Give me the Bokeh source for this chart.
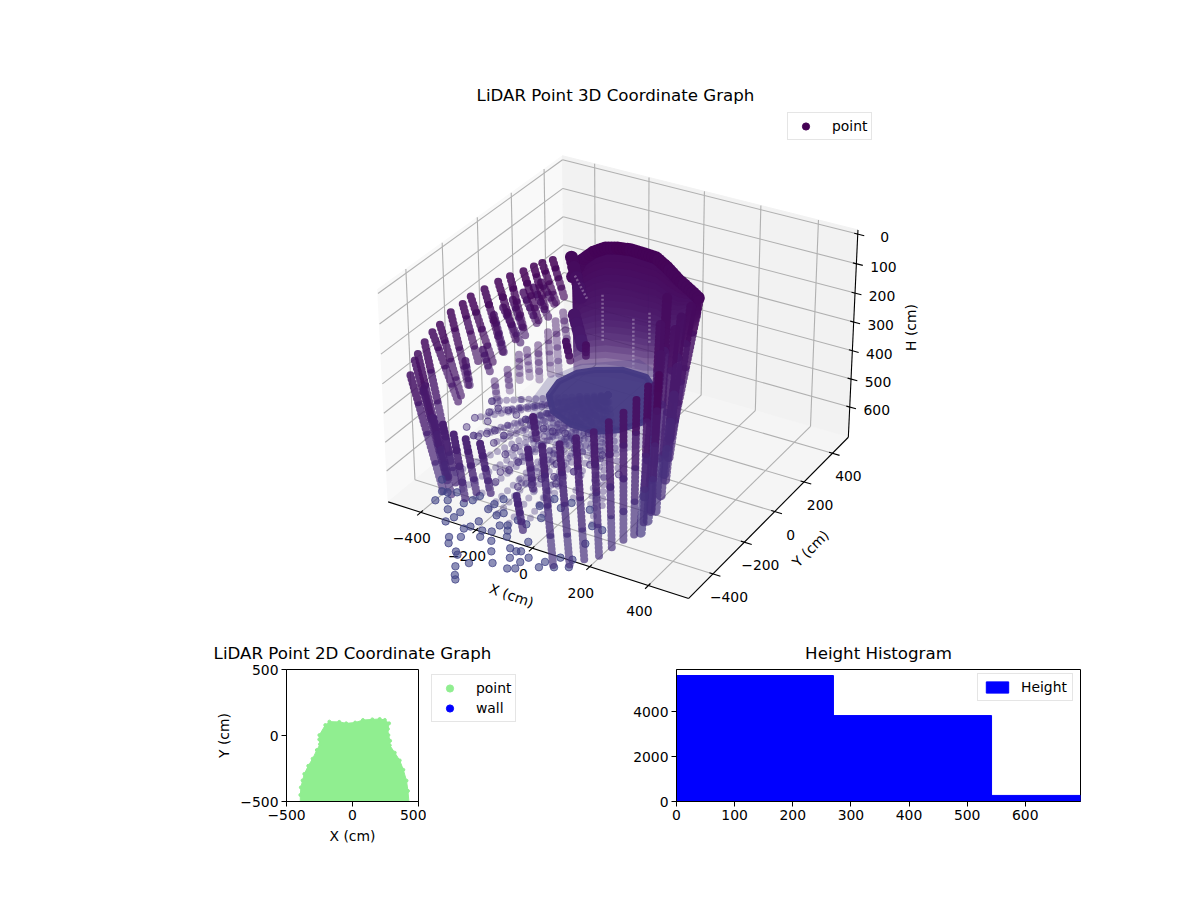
import numpy as np
from bokeh.core.properties import value
from bokeh.embed import file_html
from bokeh.layouts import column, row
from bokeh.models import FixedTicker, Legend, LegendItem, Range1d
from bokeh.palettes import Viridis256
from bokeh.plotting import figure
from bokeh.resources import INLINE

FONT = "DejaVu Sans"

# axis limits and ticks of the 3D view
x_lim = [-520, 535]
y_lim = [-550, 515]
h_lim = [709, -14]
xy_ticks = [-400, -200, 0, 200, 400]
h_ticks = [0, 100, 200, 300, 400, 500, 600]

# left wall, upper row of scan columns (start and end of each column)
lw_x0 = [-404, -411, -394, -394, -400, -398, -394, -387, -374, -368, -347, -326, -304, -275, -259, -243, -221]
lw_y0 = [-568, -532, -515, -539, -492, -452, -416, -366, -319, -283, -238, -193, -160, -129, -94, -71, -45]
lw_h0 = [230, 200, 300, 170, 155, 140, 130, 110, 100, 90, 80, 70, 60, 50, 45, 40, 35]
lw_x1 = [-336, -337, -299, -328, -337, -332, -325, -321, -333, -290, -282, -254, -253, -219, -221, -194, -177]
lw_y1 = [-514, -488, -525, -503, -469, -420, -415, -380, -302, -289, -246, -209, -169, -136, -92, -69, -52]
lw_h1 = [640, 620, 640, 600, 560, 380, 360, 340, 300, 290, 270, 250, 220, 200, 180, 170, 150]

# left wall, second row
l2_x0 = [-358, -339, -319, -306, -276, -262, -309, -291]
l2_y0 = [-172, -148, -123, -82, -71, -49, -413, -343]
l2_h0 = [200, 180, 160, 150, 130, 120, 230, 220]
l2_x1 = [-330, -296, -290, -266, -238, -224, -299, -273]
l2_y1 = [-162, -116, -99, -71, -49, -27, -407, -332]
l2_h1 = [330, 310, 290, 250, 230, 200, 320, 300]

# left wall, third (faint) row
l3_x0 = [-266, -250, -249, -234, -210, -207, -204, -193]
l3_y0 = [-321, -272, -206, -184, -157, -103, -62, -35]
l3_h0 = [330, 310, 290, 280, 270, 250, 230, 210]
l3_x1 = [-256, -248, -251, -224, -208, -198, -200, -181]
l3_y1 = [-322, -264, -201, -185, -156, -103, -52, -28]
l3_h1 = [410, 390, 390, 380, 390, 400, 420, 330]

# dark short columns low on the left and near the centre
ld_x0 = [-400, -367, -327, -290, -247, -122, -118, -164, -81, -18]
ld_y0 = [-460, -460, -463, -454, -441, -368, -445, -268, -206, -194]
ld_h0 = [430, 440, 460, 470, 480, 500, 620, 450, 200, 200]
ld_x1 = [-362, -325, -281, -256, -219, -107, -49, -147, -64, -21]
ld_y1 = [-444, -461, -481, -454, -432, -366, -522, -277, -209, -190]
ld_h1 = [640, 640, 660, 650, 650, 640, 680, 520, 260, 250]

# front wall columns
fw_x0 = [4, 64, 121, 181, 232, 281, 324, 362, 397]
fw_y0 = [-490, -490, -490, -490, -490, -490, -490, -490, -490]
fw_h0 = [391, 365, 328, 291, 243, 198, 144, 90, 43]
fw_x1 = [132, 174, 197, 226, 236, 246, 251, 242, 234]
fw_y1 = [-647, -622, -576, -539, -481, -429, -373, -299, -238]
fw_h1 = [680, 680, 680, 680, 680, 680, 680, 680, 680]

# right wall columns
rw_x0 = [265, 256, 245, 248, 194, 205, 260, 249, 250]
rw_y0 = [-9, -39, -79, -123, -76, -135, -129, -248, -214]
rw_h0 = [60, 70, 90, 110, 40, 100, 230, 240, 150]
rw_x1 = [304, 315, 324, 318, 308, 301, 263, 262, 282]
rw_y1 = [-250, -281, -315, -332, -344, -362, -213, -352, -346]
rw_h1 = [400, 450, 500, 550, 600, 590, 560, 680, 640]

# back wall mass: top and end of the fading part
bm_x = [-199, -189, -156, -123, -85, -45, -1, 39, 84, 138, 194, 244]
bm_y = [34, 72, 86, 105, 114, 125, 130, 134, 122, 95, 69, 45]
bm_h0 = [120, 80, 50, 35, 30, 30, 35, 40, 55, 70, 80, 90]
bm_h2 = [470, 480, 480, 480, 480, 480, 480, 470, 460, 365, 232, 150]

# dark blocks on the left edge of the mass
bs_x0 = [-207, -146]
bs_y0 = [42, -47]
bs_h0 = [60, 200]
bs_x1 = [-185, -105]
bs_y1 = [62, -62]
bs_h1 = [200, 300]

# pale gaps inside the mass
gap_x = [-131, -21, 36, -230]
gap_y = [100, 100, 100, 100]
gap_h0 = [194, 247, 211, 154]
gap_x1 = [-131, -21, 36, -187]
gap_h1 = [355, 416, 319, 222]

# dense floor patch under the sensor, and the thinner fringe round it
disc_x = [-219, -236, -215, -174, -99, -14, 53, 110, 115, 74, 18, -67, -156]
disc_y = [-84, 5, 83, 128, 172, 170, 110, 12, -84, -160, -206, -204, -164]
disc_h = 480
halo_x = [-246, -280, -235, -88, 70, 209, 205, 109, -32, -150]
halo_y = [-165, 12, 137, 257, 186, -28, -195, -317, -334, -272]

# faint rays across the floor
ray_x0 = -60
ray_y0 = 10
ray_h0 = 480
ray_x1 = [-382, -328, -299, -248, -251, -185, -127, -144, -54, -25, 46, 68, 171, 219, -362, -317, -241, -392]
ray_y1 = [-259, -352, -321, -305, -358, -398, -417, -492, -538, -508, -380, -321, -326, -508, -207, -167, -188, -145]
ray_h1 = 520
ray2_x1 = [-135, -95, -37, 28, 8, -202, -267, -346, 130, 182, 63, -11]
ray2_y1 = [-579, -596, -627, -542, -594, -560, -546, -507, -429, -504, -423, -486]
ray2_h1 = 600

# single floor points, far reaches first
fl_x = [-15, -29, -52, -27, -80, -93, -136, -153, -123, -140, -129, -208, -199, -198, -239, -299, -267,
        -309, -346, -292, -267, -216, -202, -196, -135, -134, -125, -95, -83, -37, -57, -123, -87, -74,
        -60, -34, -4, 32, -6, -22, 35, 59, 71, 61, 84, 104, 63, 108, 99, 160, 161, 198, 235, 188, 224,
        -11, 7, 63, 50, 28, 8, -26, 213, 130, 182, 219]
fl_y = [-949, -930, -891, -857, -836, -824, -797, -768, -750, -707, -688, -701, -669, -636, -641, -617, -598,
        -564, -507, -560, -546, -588, -560, -529, -579, -546, -508, -596, -575, -627, -639, -651, -689, -721,
        -679, -723, -771, -822, -681, -651, -729, -734, -727, -773, -825, -813, -673, -745, -777, -773, -740,
        -751, -729, -698, -690, -486, -430, -423, -464, -542, -594, -587, -597, -429, -504, -508]
fl_x2 = [-382, -374, -328, -313, -299, -287, -248, -251, -185, -180, -127, -144, -127, -54, -25, -126,
         -336, -362, -391, -350, -317, -280, -241, -164, -131, -92, -44, -30, 72, 171, 68, 46, -22, 10, -17, 35]
fl_y2 = [-259, -319, -352, -349, -321, -294, -305, -358, -398, -350, -417, -492, -470, -538, -508, -548,
         -257, -207, -145, -173, -167, -179, -188, -208, -208, -199, -223, -162, -253, -326, -321, -380, -368, -435, -464, -466]
fl_h_far = 600
fl_h_near = 520

# 2D scatter outline
outline_x = [-396, -395, -391, -378, -365, -335, -302, -270, -246, -252, -251, -206, -175, -100, -48, 20, 79,
             150, 206, 245, 277, 268, 272, 285, 282, 320, 358, 385, 409, 420, 429]
outline_y = [-520, -450, -393, -340, -291, -230, -176, -110, -66, -30, 3, 79, 105, 103, 92, 98, 117,
             122, 125, 118, 92, 50, 3, -40, -74, -130, -189, -260, -342, -420, -520]
ticks_2d = [-500, 0, 500]

# histogram
hist_edges = [0, 270, 542, 695]
hist_counts = [5600, 3820, 270]
hist_x_ticks = [0, 100, 200, 300, 400, 500, 600]
hist_y_ticks = [0, 2000, 4000]


box = np.array([1.19, 1.19, 0.85])
elev, azim = np.radians(30), np.radians(-60)
n_vec = np.array([np.cos(elev) * np.cos(azim), np.cos(elev) * np.sin(azim), np.sin(elev)])
u_vec = np.cross([0, 0, 1], n_vec)
u_vec = u_vec / np.linalg.norm(u_vec)
v_vec = np.cross(n_vec, u_vec)


def project(x, y, h):
    # same perspective view as a 3D axes with elev 30, azim -60
    x, y, h = np.asarray(x, float), np.asarray(y, float), np.asarray(h, float)
    px = (x - x_lim[0]) / (x_lim[1] - x_lim[0]) * box[0] - box[0] / 2
    py = (y - y_lim[0]) / (y_lim[1] - y_lim[0]) * box[1] - box[1] / 2
    pz = (h - h_lim[0]) / (h_lim[1] - h_lim[0]) * box[2] - box[2] / 2
    w = 10 - (n_vec[0] * px + n_vec[1] * py + n_vec[2] * pz)
    sx = (u_vec[0] * px + u_vec[1] * py + u_vec[2] * pz) / w
    sy = (v_vec[0] * px + v_vec[1] * py + v_vec[2] * pz) / w
    return 622 + 2890 * sx, 365.7 - 2851 * sy


def h_color(h):
    return Viridis256[int(max(h, 0) / 695 * 46)]


p1 = figure(width=1184, height=662, x_range=Range1d(0, 1184), y_range=Range1d(662, 0),
            toolbar_location=None, output_backend="svg", min_border=0)
p1.axis.visible = False
p1.grid.visible = False
p1.outline_line_color = None


def pane(xs, ys, hs, color):
    sx, sy = project(xs, ys, hs)
    p1.patch(sx.tolist(), sy.tolist(), fill_color=color, line_color=color)


pane([x_lim[0]] * 4, [y_lim[0], y_lim[1], y_lim[1], y_lim[0]], [h_lim[1], h_lim[1], h_lim[0], h_lim[0]], "#f9f9f9")
pane([x_lim[0], x_lim[1], x_lim[1], x_lim[0]], [y_lim[1]] * 4, [h_lim[1], h_lim[1], h_lim[0], h_lim[0]], "#f2f2f2")
pane([x_lim[0], x_lim[1], x_lim[1], x_lim[0]], [y_lim[0], y_lim[0], y_lim[1], y_lim[1]], [h_lim[0]] * 4, "#f5f5f5")


def seg(x0, y0, h0, x1, y1, h1):
    a, b = project([x0, x1], [y0, y1], [h0, h1])
    return a.tolist(), b.tolist()


grid_xs, grid_ys = [], []
for t in xy_ticks:
    # x ticks: floor then back wall
    for s in (seg(t, y_lim[0], h_lim[0], t, y_lim[1], h_lim[0]), seg(t, y_lim[1], h_lim[0], t, y_lim[1], h_lim[1])):
        grid_xs.append(s[0])
        grid_ys.append(s[1])
    # y ticks: floor then left wall
    for s in (seg(x_lim[0], t, h_lim[0], x_lim[1], t, h_lim[0]), seg(x_lim[0], t, h_lim[0], x_lim[0], t, h_lim[1])):
        grid_xs.append(s[0])
        grid_ys.append(s[1])
for t in h_ticks:
    for s in (seg(x_lim[0], y_lim[0], t, x_lim[0], y_lim[1], t), seg(x_lim[0], y_lim[1], t, x_lim[1], y_lim[1], t)):
        grid_xs.append(s[0])
        grid_ys.append(s[1])
p1.multi_line(grid_xs, grid_ys, line_color="#b0b0b0", line_width=1.1)

axis_xs, axis_ys = [], []
for s in (seg(x_lim[0], y_lim[0], h_lim[0], x_lim[1], y_lim[0], h_lim[0]),
          seg(x_lim[1], y_lim[0], h_lim[0], x_lim[1], y_lim[1], h_lim[0]),
          seg(x_lim[1], y_lim[1], h_lim[0], x_lim[1], y_lim[1], h_lim[1])):
    axis_xs.append(s[0])
    axis_ys.append(s[1])
for t in xy_ticks:
    for s in (seg(t, y_lim[0] - 20, h_lim[0], t, y_lim[0] + 12, h_lim[0]),
              seg(x_lim[1] - 12, t, h_lim[0], x_lim[1] + 25, t, h_lim[0])):
        axis_xs.append(s[0])
        axis_ys.append(s[1])
for t in h_ticks:
    s = seg(x_lim[1] - 12, y_lim[1], t, x_lim[1] + 22, y_lim[1], t)
    axis_xs.append(s[0])
    axis_ys.append(s[1])
p1.multi_line(axis_xs, axis_ys, line_color="black", line_width=1.1)


def labels(xs, ys, texts, size="13.9px", angle=0.0):
    p1.text(list(xs), list(ys), text=texts, text_font=value(FONT), text_font_size=value(size), text_color="black",
            text_align="center", text_baseline="middle", angle=angle)


minus = lambda t: str(t).replace("-", "\u2212")
tx, ty = project(xy_ticks, [y_lim[0]] * 5, [h_lim[0]] * 5)
labels(tx - 9, ty + 26, [minus(t) for t in xy_ticks])
tx, ty = project([x_lim[1]] * 5, xy_ticks, [h_lim[0]] * 5)
labels(tx + 16, ty + 23, [minus(t) for t in xy_ticks])
tx, ty = project([x_lim[1]] * 7, [y_lim[1]] * 7, h_ticks)
labels(tx + 27, ty + 3, [str(t) for t in h_ticks])
labels([511], [595], ["X (cm)"], size="13.9px", angle=-0.33)
labels([810], [548], ["Y (cm)"], size="13.9px", angle=0.79)
labels([910], [327], ["H (cm)"], size="13.9px", angle=np.pi / 2)
labels([615], [95], ["LiDAR Point 3D Coordinate Graph"], size="16.67px")
# titles of the two lower charts sit here: the first is wider than its own canvas
labels([352], [653], ["LiDAR Point 2D Coordinate Graph"], size="16.67px")
labels([878], [653], ["Height Histogram"], size="16.67px")


def columns(x0, y0, h0, x1, y1, h1, alpha, width=8, dash="0 4", fade=0.3, shade=1.0):
    # each column is a dotted stroke; cut in four only so the colour can follow H
    xs, ys, colors, alphas = [], [], [], []
    for a in zip(x0, y0, h0, x1, y1, h1):
        for f0, f1 in ((0, .25), (.25, .5), (.5, .75), (.75, 1)):
            s = seg(a[0] + (a[3] - a[0]) * f0, a[1] + (a[4] - a[1]) * f0, a[2] + (a[5] - a[2]) * f0,
                    a[0] + (a[3] - a[0]) * f1, a[1] + (a[4] - a[1]) * f1, a[2] + (a[5] - a[2]) * f1)
            xs.append(s[0])
            ys.append(s[1])
            colors.append(h_color((a[2] + (a[5] - a[2]) * (f0 + f1) / 2) * shade))
            alphas.append(alpha * (1 - fade * (f0 + f1) / 2))
    p1.multi_line(xs, ys, line_color=colors, line_alpha=alphas, line_width=width, line_cap="round", line_dash=dash)


def wall_patch(h_a, h_b, color, alpha):
    sx, sy = project(bm_x + bm_x[::-1], bm_y + bm_y[::-1], list(h_a) + list(h_b)[::-1])
    p1.patch(sx.tolist(), sy.tolist(), fill_color=color, fill_alpha=alpha, line_color=None)


# back mass: nested sheets that add up to solid towards the top
a_h, b_h = np.array(bm_h0, float), np.array(bm_h2, float)
for k in range(20, 0, -1):
    end = a_h + (b_h - a_h) * k / 20
    wall_patch(a_h.tolist(), end.tolist(), h_color(float(end.mean()) * 0.8), 0.25)
columns(bm_x[:-1], bm_y[:-1], bm_h0[:-1], bm_x[1:], bm_y[1:], bm_h0[1:], 1.0, width=13, dash="0 5", fade=0)
columns(bs_x0, bs_y0, bs_h0, bs_x1, bs_y1, bs_h1, 1.0, width=13, dash="0 5", fade=0)
gx0, gy0 = project(gap_x, gap_y, gap_h0)
gx1, gy1 = project(gap_x1, gap_y, gap_h1)
p1.segment(gx0.tolist(), gy0.tolist(), gx1.tolist(), gy1.tolist(), line_color="white", line_alpha=0.3, line_width=2.5, line_dash="2 2")

columns(l3_x0, l3_y0, l3_h0, l3_x1, l3_y1, l3_h1, 0.5)
columns([ray_x0] * len(ray_x1), [ray_y0] * len(ray_x1), [ray_h0] * len(ray_x1), ray_x1, ray_y1, [ray_h1] * len(ray_x1),
        0.45, width=7, dash="0 7", fade=0.1)
columns([ray_x0] * len(ray2_x1), [ray_y0] * len(ray2_x1), [ray_h0] * len(ray2_x1), ray2_x1, ray2_y1, [ray2_h1] * len(ray2_x1),
        0.4, width=7, dash="0 8", fade=0.1)

hx, hy = project(halo_x, halo_y, [disc_h] * len(halo_x))
p1.patch(hx.tolist(), hy.tolist(), fill_color="#443983", line_color=None, fill_alpha=0.25)
dx, dy = project(disc_x, disc_y, [disc_h] * len(disc_x))
p1.patch(dx.tolist(), dy.tolist(), fill_color="#443983", line_color="#443983", line_width=6, line_join="round", alpha=0.95)

fx, fy = project(fl_x2, fl_y2, [fl_h_near] * len(fl_x2))
p1.scatter(fx.tolist(), fy.tolist(), size=7, fill_color=h_color(fl_h_near), line_color=h_color(fl_h_near), fill_alpha=0.45, line_alpha=0.6)
columns(l2_x0, l2_y0, l2_h0, l2_x1, l2_y1, l2_h1, 0.85)
columns(lw_x0, lw_y0, lw_h0, lw_x1, lw_y1, lw_h1, 0.9, shade=0.8)
fx, fy = project(fl_x, fl_y, [fl_h_far] * len(fl_x))
p1.scatter(fx.tolist(), fy.tolist(), size=7.5, fill_color="#414487", line_color="#414487", fill_alpha=0.6, line_alpha=0.75)
columns(ld_x0, ld_y0, ld_h0, ld_x1, ld_y1, ld_h1, 1.0, shade=0.7)
columns(rw_x0, rw_y0, rw_h0, rw_x1, rw_y1, rw_h1, 0.95, width=10, dash="0 4")
columns(fw_x0, fw_y0, fw_h0, fw_x1, fw_y1, fw_h1, 1.0, width=8, dash="0 4", fade=0.35, shade=0.85)

# key for the legend: one mark outside the visible range
key = p1.scatter([-100], [-100], size=8, fill_color="#440154", line_color="#440154")
leg1 = Legend(items=[LegendItem(label="point", renderers=[key])], location=(787, 522), orientation="vertical",
              margin=0, padding=4, glyph_height=18, glyph_width=27, label_standoff=13,
              label_text_font=FONT, label_text_font_size="13.9px", label_text_color="black",
              border_line_color="#cccccc", background_fill_alpha=0.8)
p1.add_layout(leg1, "center")


def style_axes(p, xt, yt):
    p.xaxis.ticker = FixedTicker(ticks=xt)
    p.yaxis.ticker = FixedTicker(ticks=yt)
    p.xaxis.major_label_overrides = {t: minus(t) for t in xt}
    p.yaxis.major_label_overrides = {t: minus(t) for t in yt}
    p.grid.visible = False
    p.outline_line_color = "black"
    for ax in (p.xaxis, p.yaxis):
        ax.major_tick_in = 0
        ax.major_tick_out = 5
        ax.minor_tick_line_color = None
        ax.major_tick_line_color = "black"
        ax.axis_line_color = "black"
        ax.major_label_text_font = FONT
        ax.major_label_text_font_size = "13.9px"
        ax.major_label_text_color = "black"
        ax.major_label_standoff = 3
        ax.axis_label_text_font = FONT
        ax.axis_label_text_font_size = "13.9px"
        ax.axis_label_text_font_style = "normal"
        ax.axis_label_text_color = "black"
        ax.axis_label_standoff = 5


p2 = figure(width=426, height=230, x_range=Range1d(-500, 500), y_range=Range1d(-500, 500),
            x_axis_label="X (cm)", y_axis_label="Y (cm)", toolbar_location=None, output_backend="svg",
            min_border_left=286, min_border_right=8, min_border_top=7, min_border_bottom=91)
style_axes(p2, ticks_2d, ticks_2d)
p2.patch(outline_x, outline_y, fill_color="lightgreen", line_color="lightgreen")
p2.scatter(outline_x, outline_y, size=3, fill_color="lightgreen", line_color="lightgreen")

# the 2D legend stands outside the axes, so it gets a blank figure of its own;
# the row lines its frame up with the neighbours (132 px high)
p2b = figure(width=134, height=230, x_range=Range1d(0, 1), y_range=Range1d(0, 1), toolbar_location=None,
             output_backend="svg", min_border=0)
p2b.axis.visible = False
p2b.grid.visible = False
p2b.outline_line_color = None
pts = p2b.scatter([-5], [-5], size=8, fill_color="lightgreen", line_color="lightgreen")
wall = p2b.scatter([-5], [-5], size=8, fill_color="blue", line_color="blue")
leg2 = Legend(items=[LegendItem(label="point", renderers=[pts]), LegendItem(label="wall", renderers=[wall])],
              location=(5, 79), margin=0, padding=4, spacing=2, glyph_height=18, glyph_width=27, label_standoff=13,
              label_text_font=FONT, label_text_font_size="13.9px", label_text_color="black",
              border_line_color="#cccccc", background_fill_alpha=0.8)
p2b.add_layout(leg2, "center")

p3 = figure(width=624, height=230, x_range=Range1d(0, 695), y_range=Range1d(0, 5867),
            toolbar_location=None, output_backend="svg",
            min_border_left=116, min_border_right=104, min_border_top=7, min_border_bottom=91)
style_axes(p3, hist_x_ticks, hist_y_ticks)
bars = p3.quad(left=hist_edges[:-1], right=hist_edges[1:], bottom=0, top=hist_counts, fill_color="blue", line_color="blue")
leg3 = Legend(items=[LegendItem(label="Height", renderers=[bars])], location=(301, 100), margin=0, padding=5,
              glyph_height=14, glyph_width=28, label_standoff=10, label_text_font=FONT, label_text_font_size="13.9px",
              label_text_color="black", border_line_color="#cccccc", background_fill_alpha=0.8)
p3.add_layout(leg3, "center")

page = column(p1, row(p2, p2b, p3, spacing=0), spacing=0)
open("out.html", "w").write(file_html(page, INLINE))
